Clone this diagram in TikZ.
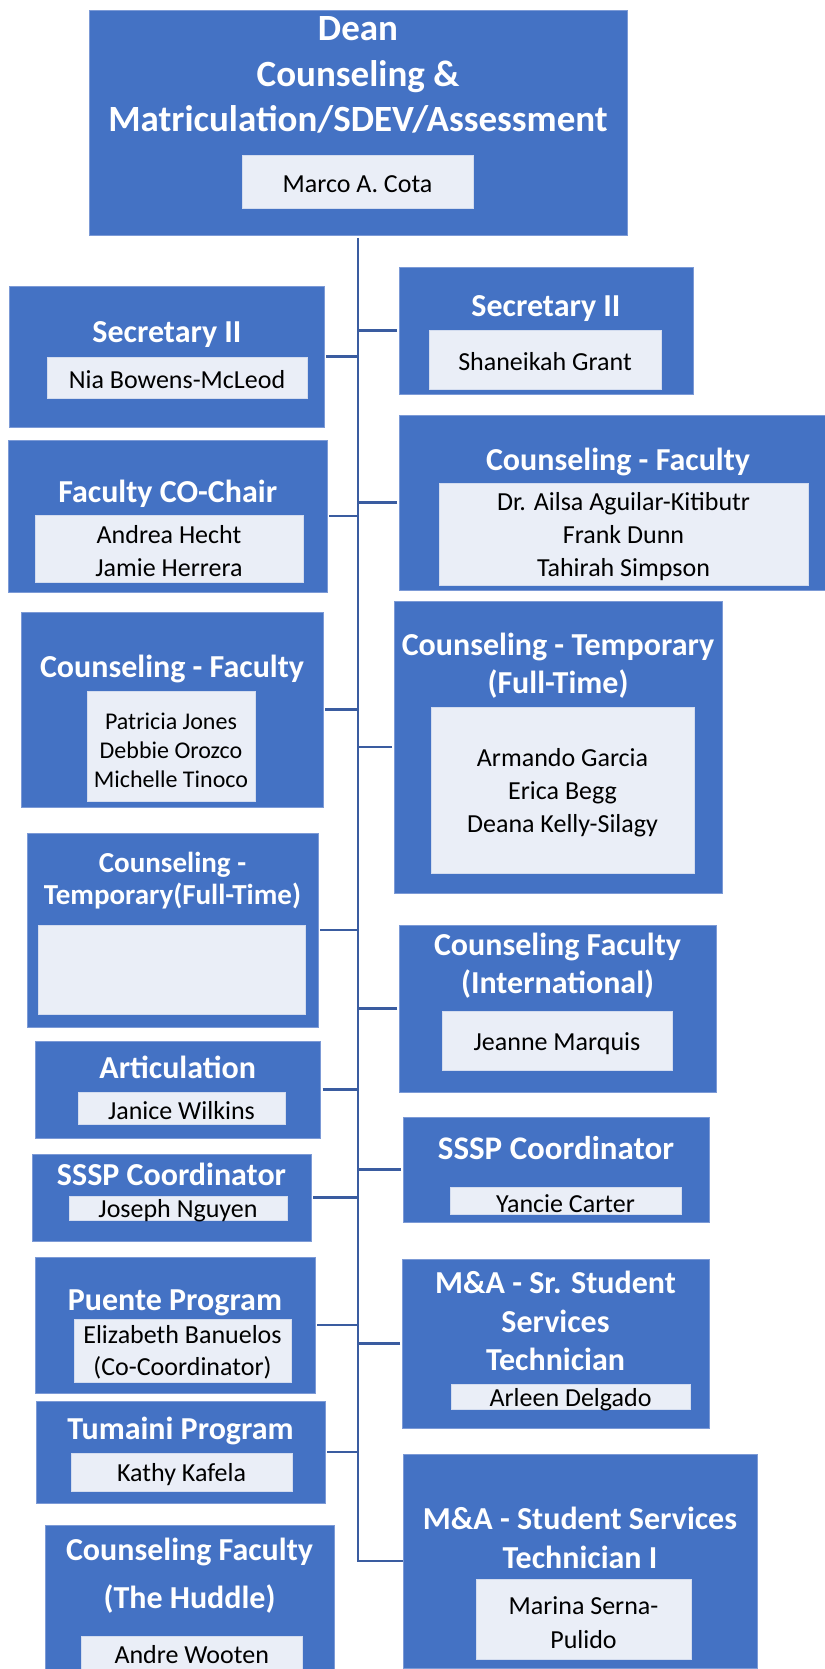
\documentclass[tikz,border=0pt]{standalone}
\usepackage{fontspec}
\setmainfont{Carlito}
\usetikzlibrary{fit}
\definecolor{obox}{HTML}{4472C4}
\definecolor{oedge}{HTML}{7C9AD6}
\definecolor{ibox}{HTML}{EAEEF7}
\definecolor{iedge}{HTML}{D3DCEF}
\definecolor{connc}{HTML}{3A5CA0}
\tikzset{
  outerbox/.style={fill=obox, draw=oedge, line width=0.8pt, inner sep=0pt, outer sep=0pt},
  innerbox/.style={fill=ibox, draw=iedge, line width=1pt, inner sep=0pt, outer sep=0pt},
  ttl/.style={text=white, font=\fontsize{32}{39}\selectfont\bfseries, align=center, inner sep=0pt, yshift=-1.5pt},
  nm/.style={text=black, font=\fontsize{26}{33}\selectfont, align=center, inner sep=0pt, yshift=-1.5pt},
  conn/.style={draw=connc, line width=2.8pt, shorten <=2pt}
}
\begin{document}
\begin{tikzpicture}[x=1pt,y=-1pt]
\useasboundingbox[fill=white] (0,0) rectangle (824,1669);

% Dean
\node[outerbox, fit={(89,10) (627,235)}] (dean) {};
\node[innerbox, fit={(242,156) (473,209)}] (deani) {};
\node[ttl, font=\fontsize{37}{45.5}\selectfont\bfseries] (deant) at (358,73.5) {Dean\\Counseling \&\\Matriculation/SDEV/Assessment};
\node[nm] (deann) at (357.5,183) {Marco A. Cota};

% Secretary left
\node[outerbox, fit={(9.5,286) (324,427)}] (secl) {};
\node[innerbox, fit={(47,357) (307,398)}] (secli) {};
\node[ttl] (seclt) at (167,333) {Secretary II};
\node[nm] (secln) at (177,378) {Nia Bowens-McLeod};

% Secretary right
\node[outerbox, fit={(399,267) (693,394)}] (secr) {};
\node[innerbox, fit={(429,330) (661,389)}] (secri) {};
\node[ttl] (secrt) at (546,307) {Secretary II};
\node[nm] (secrn) at (545,360) {Shaneikah Grant};

% Faculty CO-Chair
\node[outerbox, fit={(8.4,440) (327,592)}] (coch) {};
\node[innerbox, fit={(35,515) (303,582)}] (cochi) {};
\node[ttl] (locht) at (167.7,492) {Faculty CO-Chair};
\node[nm] (cochn) at (169,549.5) {Andrea Hecht\\Jamie Herrera};

% Counseling - Faculty right
\node[outerbox, fit={(399,415) (826,590)}] (cfr) {};
\node[innerbox, fit={(439,483) (808,585)}] (cfri) {};
\node[ttl] (cfrt) at (618,460) {Counseling - Faculty};
\node[nm] (cfrn) at (623.5,535.5) {Dr. Ailsa Aguilar-Kitibutr\\Frank Dunn\\Tahirah Simpson};

% Counseling - Faculty left
\node[outerbox, fit={(21,612) (323,807)}] (cfl) {};
\node[innerbox, fit={(87,691) (255,801)}] (cfli) {};
\node[ttl] (cflt) at (172,667) {Counseling - Faculty};
\node[nm, font=\fontsize{24}{29}\selectfont] (cfln) at (171,749) {Patricia Jones\\Debbie Orozco\\Michelle Tinoco};

% Counseling - Temporary right
\node[outerbox, fit={(394,601) (722.5,893)}] (tmpr) {};
\node[innerbox, fit={(431,707) (694,873)}] (tmpri) {};
\node[ttl, font=\fontsize{32}{38}\selectfont\bfseries] (tmprt) at (558,664) {Counseling - Temporary\\(Full-Time)};
\node[nm] (tmprn) at (562.5,791.5) {Armando Garcia\\Erica Begg\\Deana Kelly-Silagy};

% Counseling - Temporary left
\node[outerbox, fit={(27,833) (318,1027)}] (tmpl) {};
\node[innerbox, fit={(38,925) (305,1014)}] (tmpli) {};
\node[ttl, font=\fontsize{29}{32}\selectfont\bfseries] (tmplt) at (172.5,879) {Counseling -\\Temporary(Full-Time)};

% Counseling Faculty (International)
\node[outerbox, fit={(399,925) (716,1092)}] (intl) {};
\node[innerbox, fit={(442.5,1011) (672,1070)}] (intli) {};
\node[ttl, font=\fontsize{32}{38}\selectfont\bfseries] (intlt) at (557.5,964) {Counseling Faculty\\(International)};
\node[nm] (intln) at (557,1042) {Jeanne Marquis};

% Articulation
\node[outerbox, fit={(35,1041) (320.5,1138)}] (artc) {};
\node[innerbox, fit={(78,1092) (285,1124)}] (artci) {};
\node[ttl] (artct) at (177.7,1066) {Articulation};
\node[nm] (artcn) at (181.5,1109) {Janice Wilkins};

% SSSP Coordinator right
\node[outerbox, fit={(403,1117) (709,1222)}] (ssspr) {};
\node[innerbox, fit={(450,1187) (681,1214)}] (ssspri) {};
\node[ttl, font=\fontsize{33}{39}\selectfont\bfseries] (ssprt) at (556,1147) {SSSP Coordinator};
\node[nm] (ssprn) at (565.5,1202) {Yancie Carter};

% SSSP Coordinator left
\node[outerbox, fit={(32,1154) (311,1241)}] (ssspl) {};
\node[innerbox, fit={(69,1196) (287,1220)}] (ssspli) {};
\node[ttl] (ssplt) at (171.5,1173) {SSSP Coordinator};
\node[nm] (sspln) at (178,1209) {Joseph Nguyen};

% Puente Program
\node[outerbox, fit={(35,1257) (315,1393)}] (puen) {};
\node[innerbox, fit={(74,1319) (291,1382)}] (pueni) {};
\node[ttl] (puent) at (175,1301) {Puente Program};
\node[nm, font=\fontsize{26}{32}\selectfont] (puenn) at (182.5,1351) {Elizabeth Banuelos\\(Co-Coordinator)};

% M&A - Sr. Student Services Technician
\node[outerbox, fit={(402,1259) (709,1428)}] (masr) {};
\node[innerbox, fit={(451,1384) (690,1409)}] (masri) {};
\node[ttl, font=\fontsize{32}{38.5}\selectfont\bfseries] (masrt) at (555.5,1319.5) {M\&A - Sr. Student\\Services\\Technician};
\node[nm] (masrn) at (570.5,1398) {Arleen Delgado};

% Tumaini Program
\node[outerbox, fit={(36,1401) (325,1503)}] (tuma) {};
\node[innerbox, fit={(71,1453) (292,1491)}] (tumai) {};
\node[ttl] (tumat) at (180.5,1429) {Tumaini Program};
\node[nm] (tuman) at (181.5,1473) {Kathy Kafela};

% M&A - Student Services Technician I
\node[outerbox, fit={(403,1454) (757,1668)}] (mast) {};
\node[innerbox, fit={(476,1579) (691,1659)}] (masti) {};
\node[ttl, font=\fontsize{32}{39}\selectfont\bfseries] (mastt) at (580,1536.5) {M\&A - Student Services\\Technician I};
\node[nm, font=\fontsize{26}{34}\selectfont] (mastn) at (583.5,1621) {Marina Serna-\\Pulido};

% Counseling Faculty (The Huddle)
\node[outerbox, fit={(45,1525) (334,1672)}] (hudd) {};
\node[innerbox, fit={(81.5,1636) (302,1672)}] (huddi) {};
\node[ttl, font=\fontsize{32}{48}\selectfont\bfseries] (huddt) at (189.5,1574) {Counseling Faculty\\(The Huddle)};
\node[nm] (huddn) at (191.7,1653) {Andre Wooten};

% connectors
\coordinate (trunktop) at (358,238);
\draw[conn, shorten <=0pt] (trunktop) |- (mast.west);
\foreach \b in {secl,coch,cfl,tmpl,artc,ssspl,puen,tuma}{
  \draw[conn] (\b.east) -- (\b.east -| trunktop);
}
\foreach \b in {secr,cfr,tmpr,intl,ssspr,masr}{
  \draw[conn] (\b.west) -- (\b.west -| trunktop);
}
\end{tikzpicture}
\end{document}
